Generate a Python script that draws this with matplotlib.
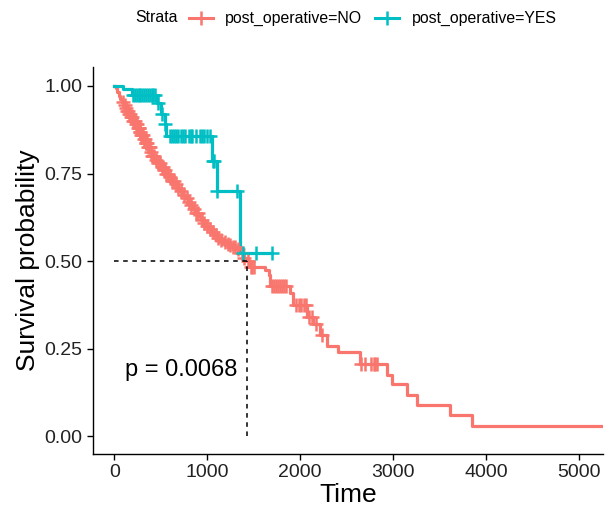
import numpy as np
import matplotlib
matplotlib.use("Agg")
import matplotlib.pyplot as plt
from matplotlib.lines import Line2D

plt.rcParams["font.family"] = ["Liberation Sans", "DejaVu Sans"]

# post_operative = NO : step knots (time, survival)
no_time = [0, 15, 30, 50, 65, 80, 100, 120, 140, 160, 180, 200, 225, 250, 270, 290,
           312, 335, 360, 385, 410, 440, 470, 500, 530, 560, 590, 620, 650, 680, 700,
           730, 760, 790, 820, 850, 880, 905, 930, 960, 990, 1020, 1050, 1080, 1110,
           1145, 1180, 1215, 1250, 1280, 1310, 1335, 1360, 1380, 1400, 1430, 1460,
           1622, 1660, 1676, 1891, 1927, 2071, 2142, 2214, 2286, 2411, 2645, 2932,
           2986, 3145, 3255, 3610, 3845, 5300]
no_surv = [1.0, 0.993, 0.983, 0.97, 0.962, 0.955, 0.945, 0.937, 0.928, 0.92, 0.91,
           0.90, 0.89, 0.88, 0.87, 0.86, 0.85, 0.838, 0.825, 0.812, 0.80, 0.79, 0.78,
           0.77, 0.76, 0.75, 0.74, 0.73, 0.72, 0.71, 0.70, 0.69, 0.68, 0.67, 0.66,
           0.649, 0.638, 0.628, 0.617, 0.608, 0.60, 0.592, 0.583, 0.575, 0.567, 0.561,
           0.556, 0.55, 0.545, 0.54, 0.535, 0.528, 0.522, 0.516, 0.51, 0.50, 0.484,
           0.475, 0.46, 0.428, 0.408, 0.374, 0.341, 0.322, 0.289, 0.258, 0.241, 0.207,
           0.174, 0.149, 0.117, 0.089, 0.06, 0.031, 0.031]
no_censor = [90, 110, 130, 140, 150, 160, 170, 180, 190, 200, 210, 220, 230, 240, 250,
             260, 265, 275, 280, 290, 300, 310, 320, 330, 340, 345, 355, 365, 370, 380,
             395, 410, 420, 430, 450, 470, 490, 510, 520, 530, 545, 560, 580, 600, 620,
             640, 665, 690, 720, 750, 780, 800, 830, 860, 880, 900, 940, 970, 1000,
             1030, 1060, 1090, 1120, 1150, 1190, 1220, 1250, 1280, 1300, 1330, 1370,
             1400, 1440, 1470, 1480, 1500, 1700, 1720, 1740, 1760, 1780, 1800, 1830,
             1850, 1960, 1990, 2010, 2040, 2060, 2100, 2130, 2170, 2230, 2660, 2700,
             2760, 2790, 2810, 2830]

# post_operative = YES
yes_time = [0, 97, 190, 460, 500, 540, 560, 1050, 1100, 1350, 1695]
yes_surv = [1.0, 0.99, 0.975, 0.95, 0.92, 0.89, 0.857, 0.785, 0.70, 0.524, 0.524]
yes_censor = [200, 220, 240, 260, 280, 300, 320, 340, 360, 380, 400, 420, 440, 470, 510,
              550, 600, 620, 640, 660, 680, 720, 740, 760, 800, 820, 840, 880, 920, 940,
              960, 1000, 1030, 1060, 1075, 1110, 1320, 1390, 1530, 1695]

median_time = 1432
pval_text = "p = 0.0068"
labels = ["post_operative=NO", "post_operative=YES"]
colors = ["#F8766D", "#00BFC4"]


def surv_at(times, surv, t):
    i = np.searchsorted(times, t, side="right") - 1
    return np.array(surv)[i]


def plot_curve(ax, times, surv, censor, color):
    ax.step(times, surv, where="post", color=color, lw=2.3, zorder=3)
    cy = surv_at(times, surv, censor)
    ax.plot(censor, cy, "+", color=color, ms=9.5, mew=1.8, zorder=4)


W, H = 615, 519
fig = plt.figure(figsize=(W / 100, H / 100), dpi=100)
ax = fig.add_axes([93 / W, 1 - 454 / H, 510 / W, 387 / H])

plot_curve(ax, no_time, no_surv, no_censor, colors[0])
plot_curve(ax, yes_time, yes_surv, yes_censor, colors[1])

ax.plot([0, median_time], [0.5, 0.5], ls=(0, (3, 3)), color="black", lw=1.1, zorder=5)
ax.plot([median_time, median_time], [0, 0.5], ls=(0, (3, 3)), color="black", lw=1.1, zorder=5)

ax.text(110, 0.19, pval_text, fontsize=17, va="center", ha="left")

ax.set_xlim(-230, 5260)
ax.set_ylim(-0.05, 1.054)
ax.set_xticks([0, 1000, 2000, 3000, 4000, 5000])
ax.set_yticks([0, 0.25, 0.5, 0.75, 1.0])
ax.set_yticklabels(["0.00", "0.25", "0.50", "0.75", "1.00"])
ax.tick_params(labelsize=14, colors="black", labelcolor="#222222", length=4, width=1)
ax.spines["top"].set_visible(False)
ax.spines["right"].set_visible(False)
ax.spines["left"].set_linewidth(1)
ax.spines["bottom"].set_linewidth(1)
ax.set_xlabel("Time", fontsize=19, labelpad=1)
ax.set_ylabel("Survival probability", fontsize=19, labelpad=3)

# legend on top, placed by hand in pixel positions
ly = 1 - 18 / H
fig.text(135 / W, ly, "Strata", fontsize=11.4, va="center", ha="left")
key_x = [189, 375]
text_x = [225, 412]
for c, lab, kx, tx in zip(colors, labels, key_x, text_x):
    fig.add_artist(Line2D([kx / W, (kx + 24) / W], [ly, ly], color=c, lw=2.2,
                          transform=fig.transFigure))
    fig.add_artist(Line2D([(kx + 12) / W], [ly], color=c, marker="+", ms=10, mew=1.8,
                          transform=fig.transFigure))
    fig.text(tx / W, ly, lab, fontsize=11.4, va="center", ha="left")

fig.savefig("out.png", dpi=100)
